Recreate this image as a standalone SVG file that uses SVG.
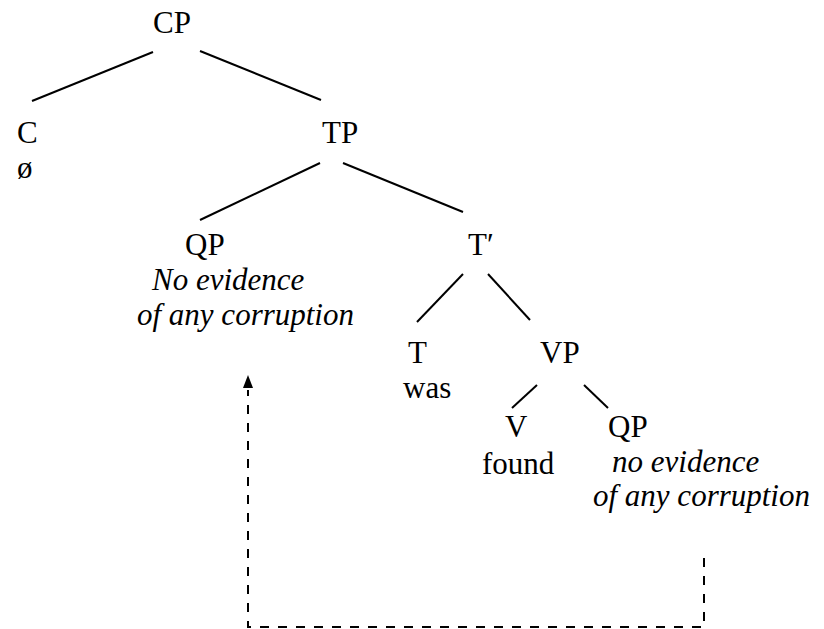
<svg xmlns="http://www.w3.org/2000/svg" width="824" height="629" viewBox="0 0 824 629">
  <style>
    .lbl { font-family: 'Liberation Serif', 'Times New Roman', Times, 'DejaVu Serif', serif; font-size: 31px; fill: #000; }
    .it { font-style: italic; }
    .branch { stroke: #000; stroke-width: 2; fill: none; }
    .move { stroke: #000; stroke-width: 2; fill: none; stroke-dasharray: 9 9; }
  </style>
  <rect width="824" height="629" fill="#fff"/>

  <g id="connectors">
    <line class="branch" x1="153" y1="52" x2="32" y2="101"/>
    <line class="branch" x1="200" y1="51" x2="321" y2="100"/>
    <line class="branch" x1="320" y1="163" x2="200" y2="220"/>
    <line class="branch" x1="343" y1="163" x2="463" y2="212"/>
    <line class="branch" x1="463" y1="274" x2="417" y2="322"/>
    <line class="branch" x1="488" y1="274" x2="530" y2="320"/>
    <line class="branch" x1="537" y1="385" x2="512" y2="408"/>
    <line class="branch" x1="584" y1="385" x2="608" y2="408"/>
    <!-- movement path from the lower QP up to the subject position -->
    <path class="move" d="M704,558 V627 H248 V390"/>
    <path d="M248,375 L243,388 L253,388 Z" fill="#000"/>
  </g>

  <g class="lbl">
    <g id="node-cp"><text x="153" y="33">CP</text></g>
    <g id="node-c">
      <text x="17" y="143">C</text>
      <text x="17" y="178">ø</text>
    </g>
    <g id="node-tp"><text x="322" y="143">TP</text></g>
    <g id="node-qp-subject">
      <text x="185" y="255">QP</text>
      <text class="it" x="152" y="290">No evidence</text>
      <text class="it" x="137" y="325">of any corruption</text>
    </g>
    <g id="node-tbar"><text x="468" y="255">T′</text></g>
    <g id="node-t">
      <text x="408" y="363">T</text>
      <text x="403" y="398">was</text>
    </g>
    <g id="node-vp"><text x="540" y="363">VP</text></g>
    <g id="node-v">
      <text x="505" y="437">V</text>
      <text x="482" y="474">found</text>
    </g>
    <g id="node-qp-object">
      <text x="608" y="437">QP</text>
      <text class="it" x="612" y="472">no evidence</text>
      <text class="it" x="593" y="506">of any corruption</text>
    </g>
  </g>
</svg>
